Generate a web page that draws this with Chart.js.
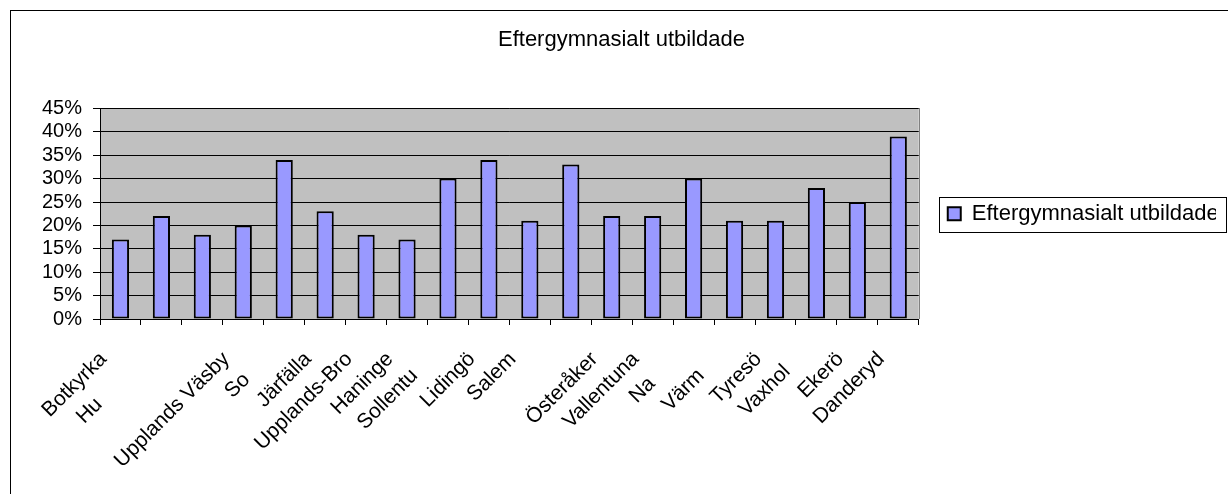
<!DOCTYPE html>
<html>
<head>
<meta charset="utf-8">
<title>Eftergymnasialt utbildade</title>
<script src="https://cdn.jsdelivr.net/npm/chart.js@4/dist/chart.umd.min.js"></script>
<style>
  html, body { margin: 0; padding: 0; background: #fff; }
  canvas { display: block; }
</style>
</head>
<body>
<canvas id="chart" width="1228" height="494"></canvas>
<script>
// Municipalities (category order along the x axis)
const categories = ["Botkyrka", "Huddinge", "", "Upplands Väsby", "Solna", "Järfälla",
  "Upplands-Bro", "Haninge", "Sollentuna", "Lidingö", "Salem", "", "Österåker",
  "Vallentuna", "Nacka", "Värmdö", "Tyresö", "Vaxholm", "Ekerö", "Danderyd"];

// Share with post-secondary education, percent
const shares = [17, 22, 18, 20, 34, 23, 18, 17, 30, 34, 21, 33, 22, 22, 30, 21, 21, 28, 25, 39];

// Category labels as printed under the axis (overlapping names are cut short)
const tickLabels = ["Botkyrka", "Hu           ", "", "Upplands Väsby", "So     ", "Järfälla",
  "Upplands-Bro", "Haninge", "Sollentu    ", "Lidingö", "Salem", "", "Österåker",
  "Vallentuna", "Na      ", "Värm    ", "Tyresö", "Vaxhol   ", "Ekerö", "Danderyd"];

const seriesName = "Eftergymnasialt utbildade";
const chartTitle = "Eftergymnasialt utbildade";

const FONT = '"Liberation Sans", Arial, Helvetica, sans-serif';
Chart.defaults.font.family = FONT;
Chart.defaults.color = '#000';

// Grey plot area, outer frame, right plot edge and legend frame
const excelFrame = {
  id: 'excelFrame',
  beforeDraw(chart) {
    const { ctx, chartArea: a } = chart;
    ctx.save();
    ctx.fillStyle = '#ffffff';
    ctx.fillRect(0, 0, chart.width, chart.height);
    ctx.fillStyle = '#c0c0c0';
    ctx.fillRect(a.left, a.top, a.right - a.left, a.bottom - a.top);
    ctx.restore();
  },
  afterDraw(chart) {
    const { ctx, chartArea: a, legend } = chart;
    ctx.save();
    ctx.lineWidth = 1;
    ctx.strokeStyle = '#000';
    ctx.strokeRect(10.5, 10.5, chart.width + 40, chart.height + 40);

    ctx.strokeStyle = '#808080';
    const rx = Math.round(a.right) + 0.5;
    ctx.beginPath();
    ctx.moveTo(rx, Math.round(a.top));
    ctx.lineTo(rx, Math.round(a.bottom));
    ctx.stroke();

    if (legend && legend.legendHitBoxes && legend.legendHitBoxes.length) {
      const hb = legend.legendHitBoxes[0];
      const cy = Math.round(hb.top + hb.height / 2) + 1;
      const left = Math.round(hb.left) - 8.5;
      const right = chart.width - 1.5;
      ctx.strokeStyle = '#000';
      ctx.strokeRect(left, cy - 17.5, right - left, 35);
    }
    ctx.restore();
  }
};

new Chart(document.getElementById('chart'), {
  type: 'bar',
  data: {
    labels: categories,
    datasets: [{
      label: seriesName,
      data: shares,
      backgroundColor: '#9999ff',
      borderColor: '#000000',
      borderWidth: 2,
      borderSkipped: false,
      barPercentage: 0.42,
      categoryPercentage: 1.0
    }]
  },
  options: {
    responsive: false,
    animation: false,
    devicePixelRatio: 1,
    layout: { padding: { left: 27, top: 10, right: 12, bottom: 0 } },
    plugins: {
      title: {
        display: true,
        text: chartTitle,
        color: '#000',
        font: { size: 22, weight: 'normal', family: FONT },
        padding: { top: 17, bottom: 55 }
      },
      legend: {
        display: true,
        position: 'right',
        fullSize: false,
        labels: {
          color: '#000',
          font: { size: 22, family: FONT },
          boxWidth: 13,
          boxHeight: 13,
          padding: 29
        }
      },
      tooltip: { enabled: false }
    },
    scales: {
      x: {
        offset: true,
        grid: { offset: true, drawOnChartArea: false, drawTicks: true, tickLength: 6, color: '#000', lineWidth: 1 },
        border: { display: true, color: '#000', width: 1 },
        ticks: {
          autoSkip: false,
          minRotation: 45,
          maxRotation: 45,
          padding: 22,
          labelOffset: -17,
          color: '#000',
          font: { size: 21, family: FONT },
          callback: (value, index) => tickLabels[index]
        },
        afterFit(scale) { scale.height = 175; }
      },
      y: {
        min: 0,
        max: 45,
        ticks: {
          stepSize: 5,
          autoSkip: false,
          padding: 11,
          color: '#000',
          font: { size: 20, family: FONT },
          callback: v => v + '%'
        },
        grid: { color: '#000', lineWidth: 1, drawTicks: true, tickLength: 7 },
        border: { display: true, color: '#000', width: 1 },
        afterFit(scale) { scale.width = 73; }
      }
    }
  },
  plugins: [excelFrame]
});
</script>
</body>
</html>
